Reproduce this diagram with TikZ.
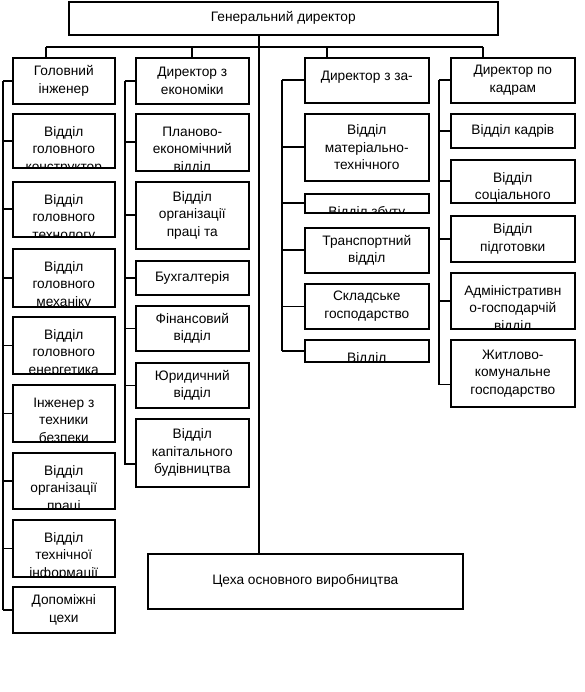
\documentclass[tikz,border=0pt]{standalone}
\usepackage{fontspec}
\setmainfont{Liberation Sans}
\usepackage{tikz}
\newcommand{\boxfont}{\fontsize{13.7}{17.5}\selectfont}
\tikzset{
    box/.style={draw, line width=1.6pt, anchor=north west, inner sep=0pt, align=center, font=\boxfont},
    cut/.style={box, path picture={\node[anchor=north, inner sep=0pt, minimum size=0pt, align=center, font=\boxfont]
        at ([yshift=-9.5pt]path picture bounding box.north) {\strut #1};}},
    link/.style={line width=1.6pt},
}

\begin{document}
\begin{tikzpicture}[x=1pt, y=-1pt]
    \useasboundingbox (0,0) rectangle (585,692);

    % Top level
    \node[box, minimum width=429pt, minimum height=33pt] (gd) at (68,1) {Генеральний директор};
    \node[box, minimum width=315pt, minimum height=55pt] (cv) at (147,553) {Цеха основного виробництва};

    % Heads
    \node[box, minimum width=102pt, minimum height=46pt] (ci) at (12,57) {Головний\\інженер};
    \node[box, minimum width=113pt, minimum height=46pt] (de) at (135,57) {Директор з\\економіки};
    \node[cut={Директор з за-}, minimum width=124pt, minimum height=45pt] (dz) at (304,57) {};
    \node[box, minimum width=124pt, minimum height=45pt] (dk) at (450,57) {Директор по\\кадрам};

    % Chief engineer
    \node[cut={Відділ\\головного\\конструктор}, minimum width=102pt, minimum height=54pt] (gk) at (12,113) {};
    \node[cut={Відділ\\головного\\технологу}, minimum width=102pt, minimum height=55pt] (gt) at (12,181) {};
    \node[cut={Відділ\\головного\\механіку}, minimum width=102pt, minimum height=58pt] (gm) at (12,248) {};
    \node[cut={Відділ\\головного\\енергетика}, minimum width=102pt, minimum height=57pt] (ge) at (12,316) {};
    \node[cut={Інженер з\\техники\\безпеки}, minimum width=102pt, minimum height=57pt] (tb) at (12,384) {};
    \node[cut={Відділ\\організації\\праці}, minimum width=102pt, minimum height=56pt] (op) at (12,452) {};
    \node[cut={Відділ\\технічної\\інформації}, minimum width=102pt, minimum height=57pt] (ti) at (12,519) {};
    \node[box, minimum width=102pt, minimum height=46pt] (dc) at (12,586) {Допоміжні\\цехи};

    % Economics
    \node[cut={Планово-\\економічний\\відділ}, minimum width=113pt, minimum height=57pt] (pe) at (135,113) {};
    \node[box, minimum width=113pt, minimum height=67pt] (or) at (135,181) {Відділ\\організації\\праці та};
    \node[box, minimum width=113pt, minimum height=34pt] (bu) at (135,260) {Бухгалтерія};
    \node[box, minimum width=113pt, minimum height=45pt] (fi) at (135,305) {Фінансовий\\відділ};
    \node[box, minimum width=113pt, minimum height=45pt] (yu) at (135,362) {Юридичний\\відділ};
    \node[box, minimum width=113pt, minimum height=68pt] (kb) at (135,418) {Відділ\\капітального\\будівництва};

    % Supply
    \node[box, minimum width=124pt, minimum height=67pt] (mt) at (304,113) {Відділ\\матеріально-\\технічного};
    \node[cut={Відділ збуту}, minimum width=124pt, minimum height=19pt] (zb) at (304,193) {};
    \node[box, minimum width=124pt, minimum height=45pt] (tr) at (304,227) {Транспортний\\відділ};
    \node[box, minimum width=124pt, minimum height=45pt] (sk) at (304,283) {Складське\\господарство};
    \node[cut={Відділ}, minimum width=124pt, minimum height=22pt] (vd) at (304,339) {};

    % Personnel
    \node[box, minimum width=124pt, minimum height=34pt] (vk) at (450,113) {Відділ кадрів};
    \node[cut={Відділ\\соціального}, minimum width=124pt, minimum height=43pt] (so) at (450,159) {};
    \node[box, minimum width=124pt, minimum height=46pt] (pi) at (450,215) {Відділ\\підготовки};
    \node[cut={Адміністративн\\о-господарчій\\відділ}, minimum width=124pt, minimum height=56pt] (ag) at (450,272) {};
    \node[box, minimum width=124pt, minimum height=67pt] (zk) at (450,339) {Житлово-\\комунальне\\господарство};

    % Bus lines
    \coordinate (t0) at (259,47);
    \coordinate (b1) at (46,47);
    \coordinate (b2) at (192,47);
    \coordinate (b3) at (327,47);
    \coordinate (b4) at (483,47);
    \draw[link] (gd.south -| t0) -- (t0 |- cv.north);
    \draw[link] (b1) -- (b4);
    \foreach \b/\n in {b1/ci,b2/de,b3/dz,b4/dk}
        \draw[link] (\b) -- (\b |- \n.north);

    % Side lines
    \coordinate (s1) at (3,0);
    \coordinate (s2) at (125,0);
    \coordinate (s3) at (282,0);
    \coordinate (s4) at (439,0);
    \coordinate (kbw) at ([yshift=-11pt]kb.west);
    \coordinate (zkw) at ([yshift=-11pt]zk.west);
    \draw[link] (s1 |- ci.west) -- (s1 |- dc.west);
    \foreach \n in {ci,gk,gt,gm,ge,tb,op,ti,dc}
        \draw[link] (s1 |- \n.west) -- (\n.west);
    \draw[link] (s2 |- de.west) -- (s2 |- kbw) -- (kbw);
    \foreach \n in {de,pe,or,bu,fi,yu}
        \draw[link] (s2 |- \n.west) -- (\n.west);
    \draw[link] (s3 |- dz.west) -- (s3 |- vd.west);
    \foreach \n in {dz,mt,zb,tr,sk,vd}
        \draw[link] (s3 |- \n.west) -- (\n.west);
    \draw[link] (s4 |- dk.west) -- (s4 |- zkw) -- (zkw);
    \foreach \n in {dk,vk,so,pi,ag}
        \draw[link] (s4 |- \n.west) -- (\n.west);
\end{tikzpicture}
\end{document}
